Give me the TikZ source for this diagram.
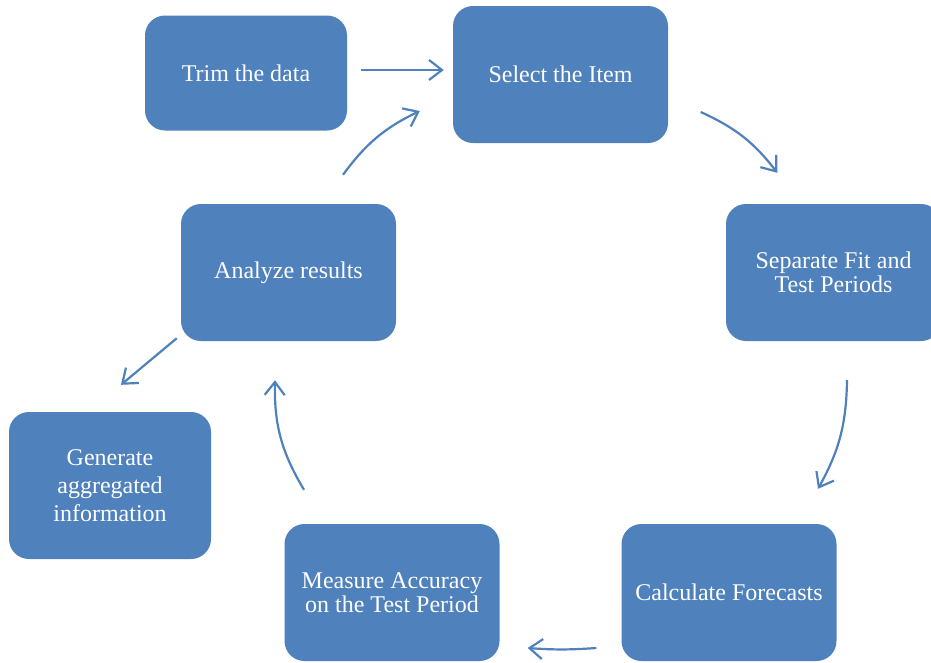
\documentclass[tikz,border=0pt]{standalone}
\usepackage{fontspec}
\setmainfont{Liberation Serif}
\usetikzlibrary{arrows.meta}
\definecolor{boxblue}{HTML}{4F81BD}
\tikzset{
  stepbox/.style={draw=none, fill=boxblue, rounded corners=20pt, text=white,
    align=center, inner sep=0pt, font=\fontsize{24}{24}\selectfont},
  arr/.style={draw=boxblue, line width=2.2pt, -{Straight Barb[length=13pt,width=20pt,line width=2.2pt]}}
}
\begin{document}
\begin{tikzpicture}[x=1pt,y=-1pt]
\useasboundingbox (0,0) rectangle (931,662);
\fill[white] (0,0) rectangle (931,662);
\node[stepbox, minimum width=202pt, minimum height=115pt] (trim) at (246,73) {Trim the data};
\node[stepbox, minimum width=215pt, minimum height=137pt] (select) at (560.5,74.5) {Select the Item};
\node[stepbox, minimum width=215pt, minimum height=137pt] (separate) at (833.5,272.5) {Separate Fit and\\Test Periods};
\node[stepbox, minimum width=215pt, minimum height=137pt] (calc) at (729,592.5) {Calculate Forecasts};
\node[stepbox, minimum width=215pt, minimum height=137pt] (measure) at (392,592.5) {Measure Accuracy\\on the Test Period};
\node[stepbox, minimum width=215pt, minimum height=137pt] (analyze) at (288.5,272.5) {Analyze results};
\node[stepbox, minimum width=202pt, minimum height=147pt, font=\fontsize{24}{28}\selectfont] (generate) at (110,485.5) {Generate\\aggregated\\information};

\draw[arr] ([shift={(14,-3)}]trim.east) -- ([shift={(-9,-4.5)}]select.west);
\draw[arr] ([shift={(32.5,37.5)}]select.east) to[bend left=14] ([shift={(51.5,-31)}]separate.north west);
\draw[arr] ([shift={(13.5,39)}]separate.south) to[bend left=14] ([shift={(89,-35)}]calc.north);
\draw[arr] ([shift={(-25,55.5)}]calc.west) to[bend left=4] ([shift={(28,55.5)}]measure.east);
\draw[arr] ([shift={(-88,-34)}]measure.north) to[bend left=16] ([shift={(-13.5,39)}]analyze.south);
\draw[arr] ([shift={(54.5,-29)}]analyze.north) to[bend left=14] ([shift={(-33,36.5)}]select.west);
\draw[arr] ([shift={(-4,-3)}]analyze.south west) -- ([shift={(11,-27)}]generate.north);
\end{tikzpicture}
\end{document}
